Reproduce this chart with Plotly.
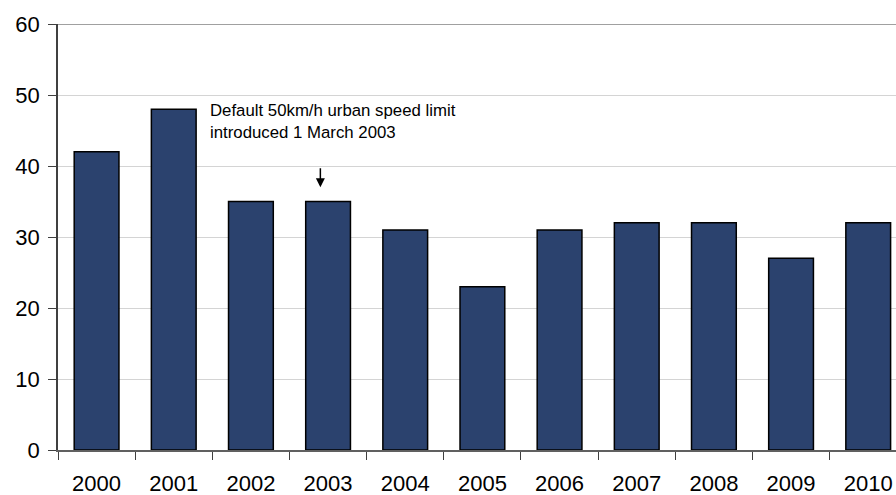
import plotly.graph_objects as go

# Annual figures, 2000-2010
years = ["2000", "2001", "2002", "2003", "2004", "2005",
         "2006", "2007", "2008", "2009", "2010"]
counts = [42, 48, 35, 35, 31, 23, 31, 32, 32, 27, 32]

y_ticks = [0, 10, 20, 30, 40, 50, 60]

note_text = "Default 50km/h urban speed limit<br>introduced 1 March 2003"

FONT = "Liberation Sans, Arial, sans-serif"

fig = go.Figure()
fig.add_trace(go.Bar(
    x=years,
    y=counts,
    width=0.58,
    marker=dict(color="#2B426E", line=dict(color="#000000", width=1.5)),
))

# callout text and its pointer
fig.add_annotation(
    x=1.44, y=49.4, xref="x", yref="y",
    text=note_text, showarrow=False,
    xanchor="left", yanchor="top", align="left",
    font=dict(family=FONT, size=16.8, color="#000000"),
)
fig.add_annotation(
    x=2.9, y=37.0, ax=2.9, ay=39.9,
    xref="x", yref="y", axref="x", ayref="y",
    text="", showarrow=True,
    arrowhead=2, arrowsize=1.2, arrowwidth=1.5, arrowcolor="#000000",
)

# darker frame line along the top of the plot
fig.add_shape(type="line", xref="paper", yref="y",
              x0=0, x1=1, y0=60, y1=60,
              line=dict(color="#808080", width=1.5))

fig.update_layout(
    width=896, height=495,
    margin=dict(l=58, r=0, t=24, b=45),
    paper_bgcolor="#ffffff",
    plot_bgcolor="#ffffff",
    showlegend=False,
    font=dict(family=FONT, size=22, color="#000000"),
    xaxis=dict(
        type="category",
        range=[-0.5, 10.36],
        tickson="boundaries",
        ticks="outside", ticklen=8, tickcolor="#404040", tickwidth=1,
        showline=True, linecolor="#606060", linewidth=1.5,
        showgrid=False,
        tickfont=dict(family=FONT, size=22, color="#000000"),
        ticklabelstandoff=13,
        automargin=False,
        fixedrange=True,
    ),
    yaxis=dict(
        range=[0, 60],
        tickvals=y_ticks,
        ticks="outside", ticklen=8, tickcolor="#404040", tickwidth=1,
        showline=True, linecolor="#404040", linewidth=1.5,
        showgrid=True, gridcolor="#d4d4d4", gridwidth=1,
        zeroline=False,
        tickfont=dict(family=FONT, size=22, color="#000000"),
        ticklabelstandoff=4,
        automargin=False,
        fixedrange=True,
    ),
)

fig.write_html("out.html")
